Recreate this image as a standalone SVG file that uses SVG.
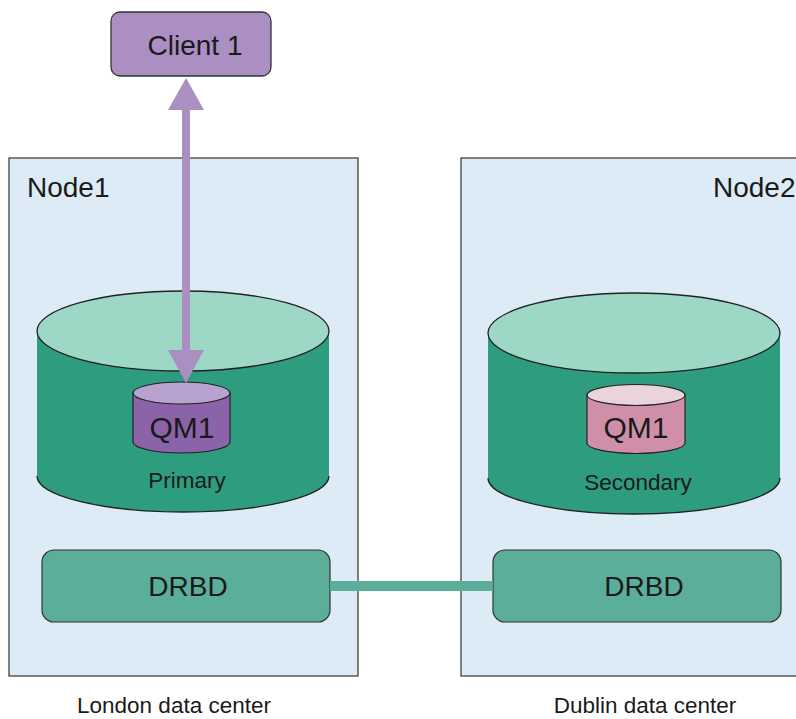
<svg xmlns="http://www.w3.org/2000/svg" width="796" height="719" viewBox="0 0 796 719">
<style>
text{font-family:"Liberation Sans",Arial,sans-serif;fill:#1a1a1a}
.node{fill:#dcebf5;stroke:#333;stroke-width:1.2}
.cylbody{fill:#2e9c7e}
.cyltop{fill:#9dd8c7;stroke:#222;stroke-width:1.3}
.cylline{fill:none;stroke:#222;stroke-width:1.3}
.drbd{fill:#5aae9a;stroke:#333;stroke-width:1.2}
.lbl{font-size:28px;text-anchor:middle}
.sm{font-size:22.5px;text-anchor:middle}
</style>
<rect width="796" height="719" fill="#fff"/>
<g id="node1">
<rect class="node" x="9" y="158" width="349" height="518"/>
<text x="27" y="197" font-size="28">Node1</text>
</g>
<g id="node2">
<rect class="node" x="461" y="158" width="345" height="518"/>
<text x="713" y="197" font-size="28">Node2</text>
</g>
<g id="cyl1">
<path class="cylbody" d="M37 331 V476 A146 36 0 0 0 329 476 V331 Z"/>
<path class="cylline" d="M37 476 A146 36 0 0 0 329 476"/>
<ellipse class="cyltop" cx="183" cy="331" rx="146" ry="40"/>
<text class="sm" x="187" y="488">Primary</text>
</g>
<g id="cyl2">
<path class="cylbody" d="M488 333 V478 A146 36 0 0 0 780 478 V333 Z"/>
<path class="cylline" d="M488 478 A146 36 0 0 0 780 478"/>
<ellipse class="cyltop" cx="634" cy="333" rx="146" ry="40"/>
<text class="sm" x="638" y="490">Secondary</text>
</g>
<g id="qm1-primary">
<path d="M133 393 V442 A48.5 11 0 0 0 230 442 V393 Z" fill="#8b63a9" stroke="#222" stroke-width="1.2"/>
<ellipse cx="181.5" cy="393" rx="48.5" ry="11" fill="#b8a2cf" stroke="#222" stroke-width="1.2"/>
<text x="182" y="438" font-size="30" text-anchor="middle">QM1</text>
</g>
<g id="qm1-secondary">
<path d="M587 395 V443 A49 10.5 0 0 0 685 443 V395 Z" fill="#cf8fa8" stroke="#222" stroke-width="1.2"/>
<ellipse cx="636" cy="395" rx="49" ry="10.5" fill="#ebd3dc" stroke="#222" stroke-width="1.2"/>
<text x="636" y="438" font-size="30" text-anchor="middle">QM1</text>
</g>
<g id="client1">
<rect x="111" y="12" width="160" height="64" rx="9" fill="#ab8fc2" stroke="#333" stroke-width="1.3"/>
<text class="lbl" x="195" y="55">Client 1</text>
</g>
<g id="drbd1">
<rect class="drbd" x="42" y="550" width="288" height="72" rx="12"/>
<text class="lbl" x="188" y="596">DRBD</text>
</g>
<g id="drbd2">
<rect class="drbd" x="493" y="550" width="288" height="72" rx="12"/>
<text class="lbl" x="644" y="596">DRBD</text>
</g>
<g id="connectors">
<rect x="182" y="108" width="8" height="244" fill="#ab8fc2"/>
<polygon points="186,78 204,110 168,110" fill="#ab8fc2"/>
<polygon points="168,350 204,350 186,383" fill="#ab8fc2"/>
<rect x="330" y="581" width="163" height="10" fill="#5aae9a"/>
</g>
<g id="labels">
<text class="sm" x="174" y="713">London data center</text>
<text class="sm" x="645" y="713">Dublin data center</text>
</g>
</svg>
